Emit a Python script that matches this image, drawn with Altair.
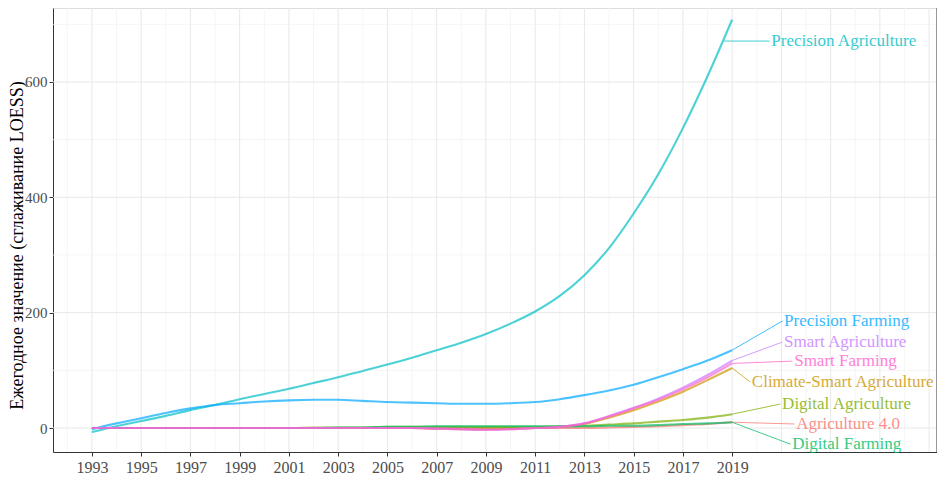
import altair as alt
import pandas as pd

years = list(range(1993, 2020))

series_names = [
    "Agriculture 4.0", "Climate-Smart Agriculture", "Digital Agriculture", "Digital Farming",
    "Precision Agriculture", "Precision Farming", "Smart Agriculture", "Smart Farming",
]
series_colors = ["#F8766D", "#CD9600", "#7CAE00", "#00BE67", "#00BFC4", "#00A9FF", "#C77CFF", "#FF61CC"]

agri_40 = [0, 0, 0, 0, 0, 0, 0, 0, 0, 0, 0, 0, 0, 0, 0, 0, 0, 0, 0, 0, 0, 1, 2, 3, 5, 7, 10]
climate_smart = [0, 0, 0, 0, 0, 0, 0, 0, 0, 0, 0, 0, 0, 0, -1, -2, -2, -1, 0, 2, 7, 18, 31, 46, 63, 83, 104]
digital_agri = [0, 0, 0, 0, 0, 0, 0, 0, 0, 1, 1, 1, 2, 2, 2, 2, 2, 2, 2, 3, 4, 6, 8, 11, 14, 18, 24]
digital_farming = [0, 0, 0, 0, 0, 0, 0, 0, 0, 0, 1, 1, 2, 2, 3, 3, 3, 3, 3, 3, 3, 4, 4, 5, 7, 8, 10]
precision_agri = [-7, 3, 12, 21, 31, 40, 50, 59, 68, 78, 88, 99, 110, 122, 135, 148, 163, 181, 202, 229, 265, 312, 372, 440, 520, 610, 708]
precision_farming = [-2, 8, 17, 26, 34, 40, 43, 46, 48, 49, 49, 47, 45, 44, 43, 42, 42, 43, 45, 50, 57, 65, 75, 88, 102, 117, 135]
smart_agri = [0, 0, 0, 0, 0, 0, 0, 0, 0, 0, 0, 0, 0, 0, -1, -2, -3, -2, 0, 2, 8, 21, 35, 51, 70, 92, 117]
smart_farming = [0, 0, 0, 0, 0, 0, 0, 0, 0, 0, 0, 0, 0, 0, -1, -2, -3, -2, 0, 2, 8, 20, 34, 49, 67, 88, 112]

series_values = [agri_40, climate_smart, digital_agri, digital_farming,
                 precision_agri, precision_farming, smart_agri, smart_farming]

# label placement (data units)
label_x = [2021.60, 2019.80, 2021.03, 2021.44, 2020.59, 2021.11, 2021.11, 2021.52]
label_y = [7, 80, 41.6, -28, 671, 185.5, 149, 116]
point_x = [2019, 2019, 2019, 2019, 2018.68, 2019, 2019, 2019]
point_y = [10, 104, 24, 10, 671, 135, 117, 112]

y_title = "Ежегодное значение (сглаживание LOESS)"
x_ticks = list(range(1993, 2020, 2))
y_ticks = [0, 200, 400, 600]
grid_major_x = list(range(1993, 2028, 2))
grid_minor_x = list(range(1992, 2028, 2))
grid_major_y = [0, 200, 400, 600]
grid_minor_y = [100, 300, 500, 700]

rows = []
for name, vals in zip(series_names, series_values):
    for yr, v in zip(years, vals):
        rows.append({"series": name, "year": yr, "value": v})
df = pd.DataFrame(rows)

lab = pd.DataFrame({
    "series": series_names,
    "lx": label_x,
    "ly": label_y,
    "sx": [x - 0.07 for x in label_x],
    "px": point_x,
    "py": point_y,
})

W, H = 884, 444
FONT = "Liberation Serif"
xscale = alt.Scale(domain=[1991.42, 2027.32], nice=False, zero=False)
yscale = alt.Scale(domain=[-41.6, 728.3], nice=False, zero=False)
color = alt.Color("series:N", scale=alt.Scale(domain=series_names, range=series_colors), legend=None)

gx_min = alt.Chart(pd.DataFrame({"g": grid_minor_x})).mark_rule(color="#f0f0f0", strokeWidth=0.7).encode(
    x=alt.X("g:Q", scale=xscale))
gx_maj = alt.Chart(pd.DataFrame({"g": grid_major_x})).mark_rule(color="#e8e8e8", strokeWidth=1).encode(
    x=alt.X("g:Q", scale=xscale))
gy_min = alt.Chart(pd.DataFrame({"g": grid_minor_y})).mark_rule(color="#f0f0f0", strokeWidth=0.7).encode(
    y=alt.Y("g:Q", scale=yscale))
gy_maj = alt.Chart(pd.DataFrame({"g": grid_major_y})).mark_rule(color="#e8e8e8", strokeWidth=1).encode(
    y=alt.Y("g:Q", scale=yscale))

lines = alt.Chart(df).mark_line(strokeWidth=2.1, opacity=0.7, interpolate="monotone").encode(
    x=alt.X("year:Q", scale=xscale,
            axis=alt.Axis(values=x_ticks, format="d", title=None, grid=False, domain=True,
                          domainColor="#333333", tickColor="#333333", tickSize=4,
                          labelFont=FONT, labelFontSize=16, labelColor="#4d4d4d", labelPadding=3)),
    y=alt.Y("value:Q", scale=yscale,
            axis=alt.Axis(values=y_ticks, title=y_title, grid=False, domain=True,
                          domainColor="#333333", tickColor="#333333", tickSize=4,
                          labelFont=FONT, labelFontSize=15, labelColor="#4d4d4d", labelPadding=2,
                          titleFont=FONT, titleFontSize=18, titleFontWeight="normal",
                          titleColor="#000000", titleX=-27, titleY=237)),
    color=color,
    detail="series:N",
)

segs = alt.Chart(lab).mark_rule(strokeWidth=1, opacity=0.75).encode(
    x=alt.X("sx:Q", scale=xscale), y=alt.Y("ly:Q", scale=yscale),
    x2="px:Q", y2="py:Q", color=color)

texts = alt.Chart(lab).mark_text(font=FONT, fontSize=17, align="left", baseline="middle", opacity=0.8).encode(
    x=alt.X("lx:Q", scale=xscale), y=alt.Y("ly:Q", scale=yscale), text="series:N", color=color)

frame = alt.Chart(pd.DataFrame({"a": [0]})).mark_rule(color="#333333", strokeWidth=1).encode(
    x=alt.value(W), y=alt.value(0), y2=alt.value(H))

chart = alt.layer(gx_min, gx_maj, gy_min, gy_maj, lines, segs, texts, frame).properties(
    width=W, height=H,
    autosize=alt.AutoSizeParams(type="none"),
    padding={"left": 45, "top": 0, "right": 0, "bottom": 30},
).configure_view(stroke=None).configure(background="white")

chart.save("out.html", embed_options={"renderer": "svg", "actions": False})
